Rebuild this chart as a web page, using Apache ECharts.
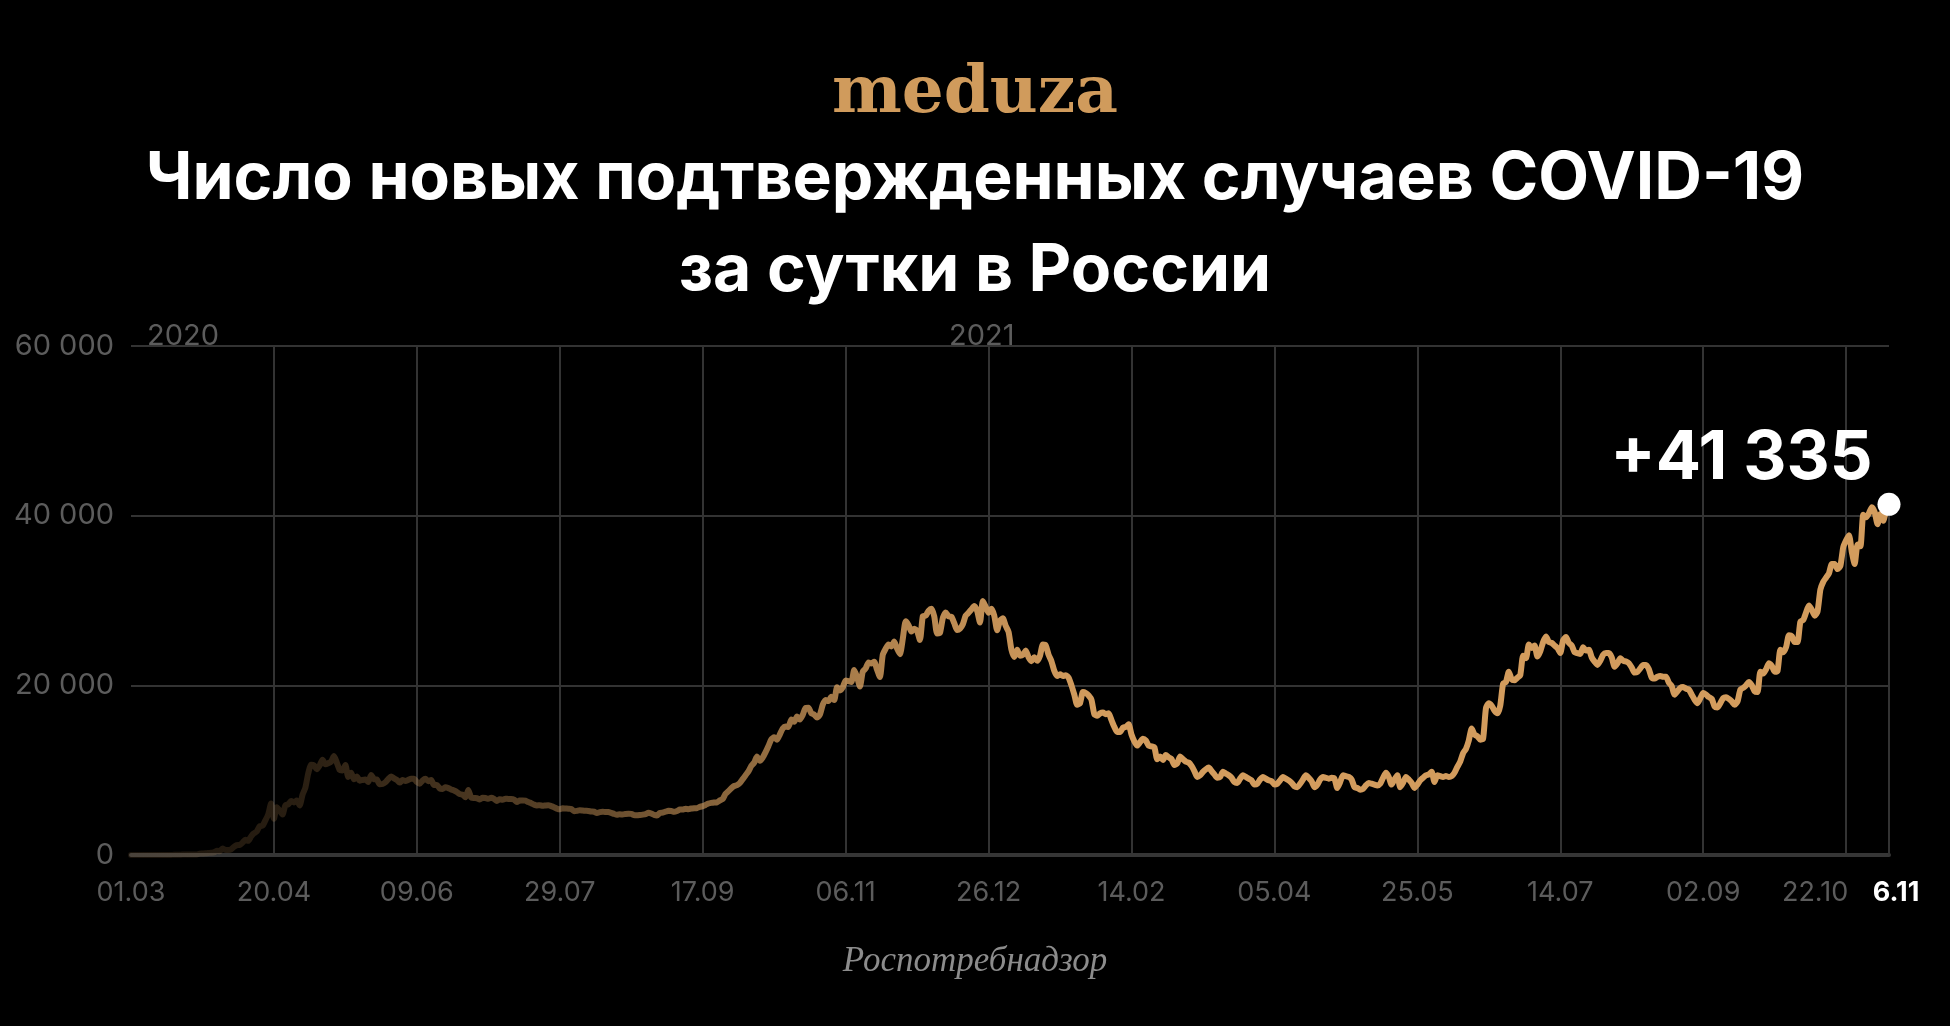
<!DOCTYPE html>
<html><head><meta charset="utf-8">
<script src="https://cdn.jsdelivr.net/npm/echarts@6/dist/echarts.min.js"></script>
<style>html,body{margin:0;padding:0;background:#000;}#c{width:1950px;height:1026px;}</style>
</head><body><div id="c"></div>
<script>
// Daily new confirmed COVID-19 cases in Russia, starting 01.03.2020 (one value per day)
const cases2020 = [
  // Mar
  0,1,0,0,1,6,0,3,0,3,8,6,11,14,4,27,24,33,52,54,53,61,71,57,163,182,196,228,270,302,501,
  // Apr
  440,771,601,582,658,954,1154,1175,1459,1786,1667,2186,2558,2774,3388,3448,4070,4785,6060,4268,5642,5236,4774,5849,5966,6361,6198,6411,5841,7099,
  // May
  7933,9623,10633,10581,10102,10559,11231,10699,10817,11012,11656,10899,10028,9974,10598,9200,9709,8926,9263,8764,8849,8894,8599,9434,8946,8915,8338,8371,8572,8952,9268,
  // Jun
  9035,8863,8536,8831,8726,8855,8984,8985,8595,8404,8779,8987,8706,8835,8246,8248,7843,7790,7972,7889,7728,7600,7425,7176,7113,6800,7650,6791,6719,6693,
  // Jul
  6556,6760,6718,6632,6736,6611,6368,6562,6509,6635,6611,6615,6537,6248,6422,6428,6406,6234,6109,5940,5842,5862,5811,5848,5871,5765,5635,5475,5395,5509,5482,
  // Aug
  5462,5427,5159,5204,5267,5241,5212,5189,5118,5102,4945,5057,5102,5061,5065,4969,4839,4748,4790,4767,4838,4870,4852,4696,4676,4711,4758,4829,4980,4897,4729,
  // Sep
  4670,4952,4995,5110,5205,5185,5099,5185,5363,5363,5449,5406,5478,5509,5529,5670,5762,5905,6065,6148,6196,6215,6431,6595,7212,7523,7867,8135,8232,8481,
  // Oct
  8945,9412,9859,10499,10888,11615,11115,11493,12126,12846,13634,13868,13592,14231,14922,15150,15099,15982,15700,16319,15971,16521,17340,17347,16710,16550,16202,16550,17717,18283,18140,
  // Nov
  18665,18257,19768,19404,19768,20582,20498,20396,21798,20977,19851,21608,21983,22702,22572,22778,21829,20977,23610,24318,24822,24581,25173,24326,23675,25487,27543,27100,26338,26683,
  // Dec
  26402,25345,28145,28209,28782,29039,28137,26097,26190,27927,28585,28137,28080,27328,26509,26689,27208,28214,28552,28948,29350,28776,27400,29935,29258,28552,29018,28200,26500,27600,27900
];
const cases2021 = [
  // Jan
  27000,26300,24200,23350,24200,23500,23600,24100,23300,22850,23300,22900,23500,24800,24700,23600,22850,21700,21100,21300,21100,21200,20900,20000,18900,17700,17900,19200,19100,18800,18300,
  // Feb
  16600,16400,16700,16800,16600,16700,15900,15100,14500,14500,15000,15100,15400,14200,13400,12900,13300,13700,13500,12900,12800,12700,11300,11600,11200,11800,11500,11300,
  // Mar
  10600,10800,11600,11300,11000,10900,10500,9900,9200,9400,9800,10100,10300,9900,9500,9100,9200,9800,9600,9400,9100,8600,8500,9000,9400,9200,9000,8800,8300,8400,8900,
  // Apr
  9200,9000,8800,8700,8300,8400,8800,9200,9000,8800,8500,8100,8000,8400,8900,9400,9100,8700,8000,8300,8900,9200,9100,9000,9100,9000,7900,8600,9400,9300,
  // May
  9200,8900,8000,7900,7700,7800,8200,8500,8400,8300,8200,8400,9100,9700,9200,8300,8900,9400,8000,8500,9200,8900,8500,7900,8300,8800,9100,9400,9500,9800,8600,
  // Jun
  9400,9300,9200,9300,9200,9300,9700,10400,11000,12000,12500,13500,14900,14200,14000,13600,13700,17300,17900,17600,17000,16700,17600,20200,20400,21600,20700,20600,20900,21200,
  // Jul
  23500,23200,24800,24400,24700,23400,24000,25100,25766,25100,25000,24700,24400,23800,25300,25700,25000,24700,23900,23800,23700,24500,24100,24200,23300,22800,22400,22900,23600,23800,23800,
  // Aug
  23300,22200,22600,23200,22900,22800,22600,22100,21500,21600,22000,22400,22400,21900,20900,20800,21000,21100,21000,21000,20300,19900,18900,19300,19700,19800,19600,19500,18900,18300,17900,
  // Sep
  18500,19100,18900,18600,18400,17500,17400,17900,18500,18600,18400,18100,17700,18100,19500,19700,20000,20400,20000,19300,19200,21600,21400,21900,22600,22300,21600,21700,24200,23900,
  // Oct
  24500,25900,25800,25100,25100,27500,27700,28600,29400,28900,28200,28700,31300,32200,32700,33200,34300,34300,33700,34100,36300,37100,37700,35700,34300,36600,36400,40100,39800,40300,41000,
  // Nov (to 06.11)
  40400,39000,40200,39400,40700,41335
];
const yTicks = [0, 20000, 40000, 60000];
const yearLabels = ['2020', '2021'];
const titleLines = ['Число новых подтвержденных случаев COVID-19', 'за сутки в России'];
const logoText = 'meduza';
const sourceText = 'Роспотребнадзор';

const allCases = cases2020.concat(cases2021);
const seriesData = allCases.map((v, i) => [i, v]);
const lastIndex = allCases.length - 1;
const lastValue = allCases[lastIndex];

function fmtThousands(v) { return String(v).replace(/\B(?=(\d{3})+(?!\d))/g, ' '); }
function dayDate(d) { return new Date(Date.UTC(2020, 2, 1 + d)); }
function dayLabel(d) {
  const dt = dayDate(d);
  const dd = String(dt.getUTCDate()).padStart(2, '0');
  const mm = String(dt.getUTCMonth() + 1).padStart(2, '0');
  return dd + '.' + mm;
}
function lastDayLabel(d) {
  const dt = dayDate(d);
  return dt.getUTCDate() + '.' + String(dt.getUTCMonth() + 1).padStart(2, '0');
}

const gold = [211, 156, 93];
function goldA(a) { return 'rgba(' + gold[0] + ',' + gold[1] + ',' + gold[2] + ',' + a + ')'; }

const chart = echarts.init(document.getElementById('c'), null, { renderer: 'canvas' });
const SANS = 'Inter, "Open Sans", sans-serif';

chart.setOption({
  backgroundColor: '#000',
  animation: false,
  grid: { left: 131, right: 61, top: 346, bottom: 171 },
  xAxis: {
    type: 'value', min: 0, max: lastIndex, interval: 50,
    axisLine: { show: true, lineStyle: { color: '#363636', width: 4 } },
    axisTick: { show: false },
    splitLine: { show: true, showMinLine: false, showMaxLine: false, lineStyle: { color: '#333', width: 2 } },
    axisLabel: {
      showMinLabel: true, showMaxLabel: true,
      color: '#5c5c5c', fontSize: 27, fontFamily: SANS, margin: 24,
      formatter: function (v) {
        if (v === lastIndex) return '{last|' + lastDayLabel(v) + '}';
        if (v === 600) return '{shift|' + dayLabel(v) + '}';
        return dayLabel(v);
      },
      rich: {
        last: { color: '#fff', fontWeight: 'bold', fontSize: 27, fontFamily: SANS, padding: [0, 0, 0, 14] },
        shift: { color: '#5c5c5c', fontSize: 27, fontFamily: SANS, padding: [0, 62, 0, 0] }
      }
    }
  },
  yAxis: {
    type: 'value', min: yTicks[0], max: yTicks[yTicks.length - 1], interval: yTicks[1] - yTicks[0],
    axisLine: { show: false }, axisTick: { show: false },
    splitLine: { show: true, lineStyle: { color: '#333', width: 2 } },
    axisLabel: { color: '#5c5c5c', fontSize: 29, fontFamily: SANS, margin: 17, formatter: fmtThousands }
  },
  series: [
    {
      type: 'line', data: seriesData, showSymbol: false, smooth: 0.2, z: 3,
      lineStyle: {
        width: 6, cap: 'round', join: 'round',
        color: new echarts.graphic.LinearGradient(0, 0, 1, 0, [
          { offset: 0, color: goldA(0.12) },
          { offset: 0.1, color: goldA(0.2) },
          { offset: 0.24, color: goldA(0.42) },
          { offset: 0.35, color: goldA(0.68) },
          { offset: 0.45, color: goldA(0.88) },
          { offset: 0.55, color: goldA(1) },
          { offset: 1, color: goldA(1) }
        ])
      },
      markLine: {
        silent: true, symbol: 'none', label: { show: false },
        lineStyle: { color: '#333', width: 2, type: 'solid' },
        data: [[{ coord: [lastIndex, 0] }, { coord: [lastIndex, lastValue] }]]
      }
    },
    {
      type: 'scatter', data: [[lastIndex, lastValue]], symbolSize: 23, z: 10,
      itemStyle: { color: '#fff', opacity: 1 },
      label: {
        show: true, position: 'left', distance: 5, offset: [0, -45],
        formatter: '+' + fmtThousands(lastValue),
        color: '#fff', fontSize: 67, fontWeight: 'bold', fontFamily: SANS
      }
    }
  ],
  graphic: [
    { type: 'text', x: 975, y: 95, style: { text: logoText, font: 'bold 66px "DejaVu Serif"', fill: '#D09B5C', textAlign: 'center', textVerticalAlign: 'middle' } },
    { type: 'text', x: 975, y: 179, style: { text: titleLines[0], font: 'bold 66px ' + SANS, fill: '#fff', textAlign: 'center', textVerticalAlign: 'middle' } },
    { type: 'text', x: 975, y: 271, style: { text: titleLines[1], font: 'bold 66px ' + SANS, fill: '#fff', textAlign: 'center', textVerticalAlign: 'middle' } },
    { type: 'text', x: 147, y: 351, style: { text: yearLabels[0], font: '29px ' + SANS, fill: '#5c5c5c', textAlign: 'left', textVerticalAlign: 'bottom' } },
    { type: 'text', x: 949, y: 351, style: { text: yearLabels[1], font: '29px ' + SANS, fill: '#5c5c5c', textAlign: 'left', textVerticalAlign: 'bottom' } },
    { type: 'text', x: 975, y: 962, style: { text: sourceText, font: 'italic 35px "Liberation Serif"', fill: '#8c8c8c', textAlign: 'center', textVerticalAlign: 'middle' } }
  ]
});
</script>
</body></html>
